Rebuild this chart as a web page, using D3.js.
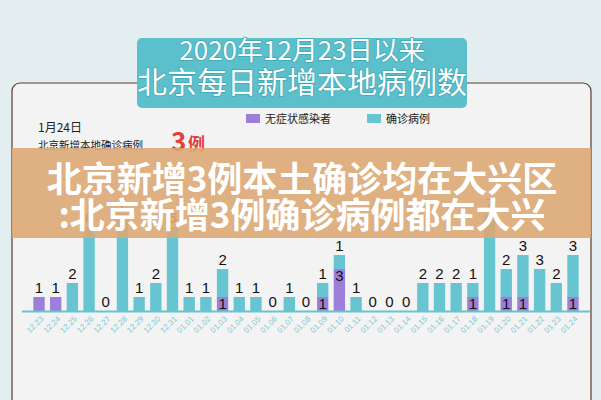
<!DOCTYPE html>
<html><head><meta charset="utf-8">
<script src="https://cdn.jsdelivr.net/npm/d3@7"></script>
<style>body{margin:0;background:#e3eef0;}svg{display:block;font-family:"Noto Sans CJK SC",sans-serif;}</style>
</head><body><svg id="chart" width="601" height="400"></svg>
<script>
const dates = ['12.23','12.24','12.25','12.26','12.27','12.28','12.29','12.30','12.31','01.01','01.02','01.03','01.04','01.05','01.06','01.07','01.08','01.09','01.10','01.11','01.12','01.13','01.14','01.15','01.16','01.17','01.18','01.19','01.20','01.21','01.22','01.23','01.24'];
const asymptomatic = [1,1,0,0,0,0,0,0,0,0,0,1,0,0,0,0,0,1,3,0,0,0,0,0,0,0,1,0,1,1,0,0,1];
const confirmed = [0,0,2,6,0,7,1,2,6,1,1,2,1,1,0,1,0,1,1,1,0,0,0,2,2,2,1,7,2,3,3,2,3];

const svg = d3.select('#chart');
const baseY = 311;

// panel
svg.append('rect').attr('x', 12).attr('y', 83).attr('width', 579).attr('height', 340)
    .attr('rx', 8).attr('fill', '#f3f3f3').attr('stroke', '#5a3d30').attr('stroke-width', 1.2);

// title box
svg.append('rect').attr('x', 137).attr('y', 38).attr('width', 330).attr('height', 70)
    .attr('rx', 5).attr('fill', '#5cbfcc');
[['2020年12月23日以来', 53, 26], ['北京每日新增本地病例数', 85, 30]].forEach(([t, y, s]) => {
    svg.append('text').attr('x', 302).attr('y', y).attr('text-anchor', 'middle')
        .attr('dominant-baseline', 'middle').attr('font-size', s).attr('fill', '#ffffff')
        .attr('stroke', '#3ea9b6').attr('stroke-width', 1.5).attr('paint-order', 'stroke').text(t);
});

// header text
svg.append('text').attr('x', 38).attr('y', 132).attr('font-size', 12).attr('fill', '#222').text('1月24日');
svg.append('text').attr('x', 38).attr('y', 149).attr('font-size', 10.5).attr('fill', '#222').text('北京新增本地确诊病例');
svg.append('text').attr('x', 171).attr('y', 151).attr('font-size', 26).attr('font-weight', 'bold')
    .attr('fill', '#e0413b').text('3');
svg.append('text').attr('x', 188).attr('y', 150).attr('font-size', 17).attr('font-weight', 'bold')
    .attr('fill', '#e0413b').text('例');

// legend
const legend = [['无症状感染者', '#9b7fd8', 246], ['确诊病例', '#67c4d1', 367]];
legend.forEach(([t, c, x]) => {
    svg.append('rect').attr('x', x).attr('y', 114).attr('width', 14).attr('height', 9).attr('fill', c);
    svg.append('text').attr('x', x + 19).attr('y', 123).attr('font-size', 11).attr('fill', '#222').text(t);
});

const x = d3.scaleBand().domain(dates).range([28, 584]).padding(0.32);
const y = d3.scaleLinear().domain([0, 7]).range([baseY, baseY - 98]);

const g = svg.append('g');
dates.forEach((d, i) => {
    const a = asymptomatic[i], c = confirmed[i];
    if (a > 0) g.append('rect').attr('x', x(d)).attr('y', y(a)).attr('width', x.bandwidth())
        .attr('height', baseY - y(a)).attr('fill', '#9b7fd8');
    if (c > 0) g.append('rect').attr('x', x(d)).attr('y', y(a + c)).attr('width', x.bandwidth())
        .attr('height', y(a) - y(a + c)).attr('fill', '#67c4d1');
    const cx = x(d) + x.bandwidth() / 2;
    const topLabel = c > 0 ? c : a;
    g.append('text').attr('x', cx).attr('y', y(a + c) - 4).attr('text-anchor', 'middle')
        .attr('font-size', 15).attr('fill', '#111').attr('font-family', 'Liberation Sans, Arial')
        .text(a + c === 0 ? 0 : topLabel);
    if (a > 0 && c > 0) g.append('text').attr('x', cx).attr('y', y(a) + 12).attr('text-anchor', 'middle')
        .attr('font-size', 15).attr('fill', '#111').attr('font-family', 'Liberation Sans, Arial').text(a);
});

svg.append('line').attr('x1', 22).attr('x2', 590).attr('y1', baseY + 0.5).attr('y2', baseY + 0.5)
    .attr('stroke', '#67c4d1').attr('stroke-width', 2);

const axis = svg.append('g').attr('transform', `translate(0,${baseY + 1})`)
    .call(d3.axisBottom(x).tickSize(0).tickPadding(4));
axis.select('.domain').remove();
axis.selectAll('text').attr('font-size', 8).attr('fill', '#7fc8d3')
    .attr('text-anchor', 'end').attr('transform', 'rotate(-45)').attr('dx', '-0.2em').attr('dy', '0.6em');

// overlay banner
svg.append('rect').attr('x', 12).attr('y', 148).attr('width', 579).attr('height', 90)
    .attr('fill', 'rgba(220,168,118,0.9)');
[['北京新增3例本土确诊均在大兴区', 192], [':北京新增3例确诊病例都在大兴', 228]].forEach(([t, yy]) => {
    svg.append('text').attr('x', 302).attr('y', yy).attr('text-anchor', 'middle')
        .attr('font-size', 35).attr('font-weight', 'bold').attr('fill', '#ffffff').text(t);
});
</script></body></html>
